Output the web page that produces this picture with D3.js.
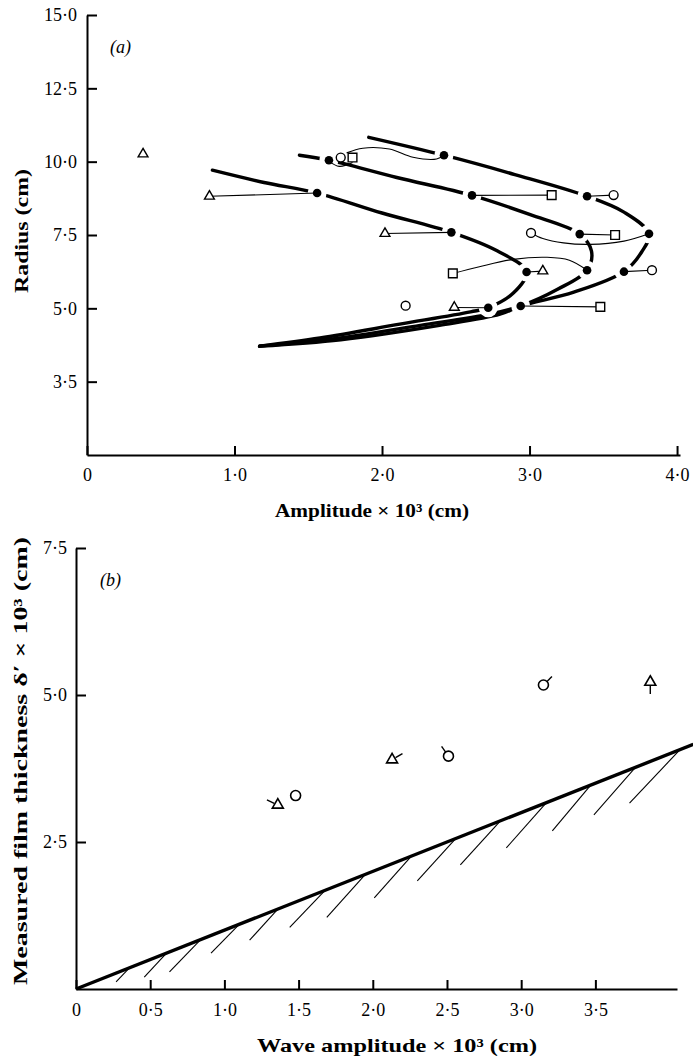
<!DOCTYPE html>
<html>
<head>
<meta charset="utf-8">
<script src="https://cdn.jsdelivr.net/npm/d3@7"></script>
<style>
  body { margin: 0; background: #fff; }
  svg { display: block; font-family: 'Liberation Serif', 'DejaVu Serif', serif; }
</style>
</head>
<body>
<svg width="693" height="1060"></svg>
<script>
// ---- panel (a): radius against amplitude ----
const radiusTicks = [15, 12.5, 10, 7.5, 5, 2.5]
const radiusLabels = ['15·0', '12·5', '10·0', '7·5', '5·0', '3·5']
const ampTicks = [0, 1, 2, 3, 4]
const ampLabels = ['0', '1·0', '2·0', '3·0', '4·0']

// filled dots
const dotAmp = [1.64, 2.42, 1.56, 2.61, 3.39, 2.47, 3.34, 3.81, 2.98, 3.39, 3.64, 2.72, 2.94]
const dotRadius = [10.05, 10.22, 8.93, 8.85, 8.82, 7.59, 7.53, 7.54, 6.24, 6.30, 6.25, 5.02, 5.08]

// open symbols
const openAmp = [0.38, 0.83, 1.72, 1.80, 3.15, 3.57, 2.02, 3.01, 3.58, 2.48, 3.09, 3.83, 2.16, 2.49, 3.48]
const openRadius = [10.26, 8.82, 10.14, 10.14, 8.86, 8.86, 7.55, 7.57, 7.50, 6.19, 6.27, 6.30, 5.09, 5.03, 5.05]
const openShape = ['triangle', 'triangle', 'circle', 'square', 'square', 'circle', 'triangle', 'circle',
  'square', 'square', 'triangle', 'circle', 'circle', 'triangle', 'square']

// thin links between an open symbol and its dot
const links = [
  [[0.83, 8.82], [1.56, 8.93]],
  [[1.64, 10.02], [1.71, 9.84], [1.80, 9.97]],
  [[1.76, 10.30], [1.87, 10.46], [2.05, 10.43], [2.21, 10.15], [2.37, 10.09], [2.42, 10.22]],
  [[3.15, 8.86], [2.61, 8.85]],
  [[3.57, 8.86], [3.39, 8.82]],
  [[2.02, 7.55], [2.47, 7.59]],
  [[3.01, 7.57], [3.09, 7.38], [3.23, 7.23], [3.41, 7.18], [3.64, 7.29], [3.81, 7.54]],
  [[3.58, 7.50], [3.34, 7.53]],
  [[2.48, 6.19], [2.66, 6.42], [2.89, 6.67], [3.12, 6.74], [3.27, 6.64], [3.39, 6.30]],
  [[3.09, 6.27], [2.98, 6.24]],
  [[3.83, 6.30], [3.64, 6.25]],
  [[2.49, 5.03], [2.72, 5.02]],
  [[3.48, 5.05], [2.94, 5.08]],
]

// thick broken loci, converging into the wedge at lower left
const curveA = [[1.91, 10.83], [2.42, 10.22], [2.90, 9.56], [3.39, 8.82], [3.64, 8.28], [3.81, 7.54],
  [3.76, 6.92], [3.64, 6.25], [3.30, 5.55], [2.94, 5.08], [2.80, 4.80], [2.39, 4.42], [1.72, 3.93], [1.17, 3.71]]
const curveB = [[1.44, 10.22], [1.64, 10.05], [2.10, 9.46], [2.61, 8.85], [3.00, 8.20], [3.34, 7.53],
  [3.42, 6.95], [3.39, 6.30], [3.19, 5.65], [2.94, 5.08], [2.73, 4.80], [2.26, 4.42], [1.65, 3.95], [1.17, 3.71]]
const curveC = [[0.85, 9.71], [1.20, 9.29], [1.56, 8.93], [2.00, 8.25], [2.47, 7.59], [2.78, 6.96],
  [2.98, 6.24], [2.89, 5.52], [2.72, 5.02], [2.60, 4.88], [2.12, 4.46], [1.58, 3.99], [1.17, 3.71]]

// ---- panel (b): film thickness against wave amplitude ----
const waveTicks = [0, 0.5, 1, 1.5, 2, 2.5, 3, 3.5]
const waveLabels = ['0', '0·5', '1·0', '1·5', '2·0', '2·5', '3·0', '3·5']
const thickTicks = [2.5, 5, 7.5]
const thickLabels = ['2·5', '5·0', '7·5']

const waveAmp = [1.36, 1.48, 2.13, 2.51, 3.15, 3.87]
const filmThick = [3.13, 3.29, 3.90, 3.96, 5.17, 5.22]
const filmShape = ['triangle', 'circle', 'triangle', 'circle', 'circle', 'triangle']
const flagAngle = [155, null, 30, 125, 45, 270]

// bounding line and its hatching
const boundAmp = [0, 4.16]
const boundThick = [0, 4.16]
const hatchTop = [0.36, 0.61, 0.84, 1.10, 1.36, 1.68, 1.95, 2.26, 2.56, 2.86, 3.17, 3.47, 3.77, 4.07]
const hatchFootAmp = [0.27, 0.46, 0.63, 0.91, 1.17, 1.44, 1.69, 2.01, 2.30, 2.59, 2.90, 3.21, 3.49, 3.73]
const hatchFootThick = [0.12, 0.20, 0.29, 0.61, 0.83, 1.05, 1.22, 1.55, 1.84, 2.11, 2.40, 2.69, 2.96, 3.16]

const svg = d3.select('svg')

const symbolFor = (shape, small) => {
  const type = { triangle: d3.symbolTriangle, circle: d3.symbolCircle, square: d3.symbolSquare }[shape]
  const size = { triangle: small ? 42 : 52, circle: small ? 62 : 78, square: 76 }[shape]
  return d3.symbol().type(type).size(size)()
}

const styleAxis = (g, fontSize) => {
  g.select('.domain').attr('stroke-width', 2)
  g.selectAll('.tick line').attr('stroke-width', 2)
  g.selectAll('.tick text')
    .attr('font-size', fontSize)
    .attr('font-family', "'Liberation Serif', serif")
    .attr('fill', '#000')
}

// ---------- panel (a) ----------
const xA = d3.scaleLinear().domain([0, 4.02]).range([87, 680])
const yA = d3.scaleLinear().domain([0, 15]).range([455, 15])

const gA = svg.append('g')

gA.append('g')
  .attr('transform', `translate(${xA(0)},0)`)
  .call(d3.axisLeft(yA).tickValues(radiusTicks).tickFormat((d, i) => radiusLabels[i])
    .tickSizeInner(-10).tickSizeOuter(0).tickPadding(10))
  .call((g) => styleAxis(g, 18))

gA.append('g')
  .attr('transform', `translate(0,${yA(0)})`)
  .call(d3.axisBottom(xA).tickValues(ampTicks).tickFormat((d, i) => ampLabels[i])
    .tickSizeInner(-9).tickSizeOuter(0).tickPadding(13))
  .call((g) => styleAxis(g, 18))

const lineA = d3.line()
  .x((d) => xA(d[0]))
  .y((d) => yA(d[1]))
  .curve(d3.curveCatmullRom.alpha(0.5))

// thick loci
gA.selectAll('path.locus')
  .data([curveA, curveB, curveC])
  .join('path')
  .attr('class', 'locus')
  .attr('d', lineA)
  .attr('fill', 'none')
  .attr('stroke', '#000')
  .attr('stroke-width', 3.4)
  .attr('stroke-linecap', 'round')

// white halos break the loci around each dot
gA.selectAll('circle.halo')
  .data(dotAmp)
  .join('circle')
  .attr('class', 'halo')
  .attr('cx', (d) => xA(d))
  .attr('cy', (d, i) => yA(dotRadius[i]))
  .attr('r', 9.5)
  .attr('fill', '#fff')

// thin links
gA.selectAll('path.link')
  .data(links)
  .join('path')
  .attr('class', 'link')
  .attr('d', lineA)
  .attr('fill', 'none')
  .attr('stroke', '#000')
  .attr('stroke-width', 1.1)

gA.selectAll('path.open')
  .data(openAmp)
  .join('path')
  .attr('class', 'open')
  .attr('transform', (d, i) => `translate(${xA(d)},${yA(openRadius[i])})`)
  .attr('d', (d, i) => symbolFor(openShape[i], true))
  .attr('fill', '#fff')
  .attr('stroke', '#000')
  .attr('stroke-width', 1.4)

gA.selectAll('circle.dot')
  .data(dotAmp)
  .join('circle')
  .attr('class', 'dot')
  .attr('cx', (d) => xA(d))
  .attr('cy', (d, i) => yA(dotRadius[i]))
  .attr('r', 4.3)
  .attr('fill', '#000')

gA.append('text')
  .attr('x', 110).attr('y', 53)
  .attr('font-size', 18).attr('font-style', 'italic')
  .text('(a)')

gA.append('text')
  .attr('transform', 'translate(28,231) rotate(-90)')
  .attr('text-anchor', 'middle')
  .attr('font-size', 19).attr('font-weight', 'bold')
  .attr('textLength', 124).attr('lengthAdjust', 'spacingAndGlyphs')
  .text('Radius (cm)')

gA.append('text')
  .attr('x', 372).attr('y', 517)
  .attr('text-anchor', 'middle')
  .attr('font-size', 19).attr('font-weight', 'bold')
  .attr('textLength', 194).attr('lengthAdjust', 'spacingAndGlyphs')
  .text('Amplitude × 10³ (cm)')

// ---------- panel (b) ----------
const xB = d3.scaleLinear().domain([0, 4.05]).range([76, 677])
const yB = d3.scaleLinear().domain([0, 7.5]).range([989, 548])

const gB = svg.append('g')

gB.append('g')
  .attr('transform', `translate(${xB(0)},0)`)
  .call(d3.axisLeft(yB).tickValues(thickTicks).tickFormat((d, i) => thickLabels[i])
    .tickSizeInner(-10).tickSizeOuter(0).tickPadding(9))
  .call((g) => styleAxis(g, 18))

gB.append('g')
  .attr('transform', `translate(0,${yB(0)})`)
  .call(d3.axisBottom(xB).tickValues(waveTicks).tickFormat((d, i) => waveLabels[i])
    .tickSizeInner(-9).tickSizeOuter(0).tickPadding(14))
  .call((g) => styleAxis(g, 18))

const lineB = d3.line()
  .x((d) => xB(d[0]))
  .y((d) => yB(d[1]))

gB.append('path')
  .attr('d', lineB(boundAmp.map((d, i) => [d, boundThick[i]])))
  .attr('fill', 'none')
  .attr('stroke', '#000')
  .attr('stroke-width', 3.4)

gB.selectAll('line.hatch')
  .data(hatchTop)
  .join('line')
  .attr('class', 'hatch')
  .attr('x1', (d) => xB(d))
  .attr('y1', (d) => yB(d))
  .attr('x2', (d, i) => xB(hatchFootAmp[i]))
  .attr('y2', (d, i) => yB(hatchFootThick[i]))
  .attr('stroke', '#000')
  .attr('stroke-width', 1.1)

// short flags on some of the symbols
const flagged = waveAmp.map((d, i) => i).filter((i) => flagAngle[i] !== null)
const rad = (i) => flagAngle[i] * Math.PI / 180

gB.selectAll('line.flag')
  .data(flagged)
  .join('line')
  .attr('class', 'flag')
  .attr('x1', (i) => xB(waveAmp[i]) + 4 * Math.cos(rad(i)))
  .attr('y1', (i) => yB(filmThick[i]) - 4 * Math.sin(rad(i)))
  .attr('x2', (i) => xB(waveAmp[i]) + 12 * Math.cos(rad(i)))
  .attr('y2', (i) => yB(filmThick[i]) - 12 * Math.sin(rad(i)))
  .attr('stroke', '#000')
  .attr('stroke-width', 1.4)

gB.selectAll('path.film')
  .data(waveAmp)
  .join('path')
  .attr('class', 'film')
  .attr('transform', (d, i) => `translate(${xB(d)},${yB(filmThick[i])})`)
  .attr('d', (d, i) => symbolFor(filmShape[i], false))
  .attr('fill', '#fff')
  .attr('stroke', '#000')
  .attr('stroke-width', 1.6)

gB.append('text')
  .attr('x', 100).attr('y', 586)
  .attr('font-size', 18).attr('font-style', 'italic')
  .text('(b)')

gB.append('text')
  .attr('transform', 'translate(27,761) rotate(-90)')
  .attr('text-anchor', 'middle')
  .attr('font-size', 19).attr('font-weight', 'bold')
  .attr('textLength', 448).attr('lengthAdjust', 'spacingAndGlyphs')
  .text('Measured film thickness δ′ × 10³ (cm)')

gB.append('text')
  .attr('x', 397).attr('y', 1052)
  .attr('text-anchor', 'middle')
  .attr('font-size', 19).attr('font-weight', 'bold')
  .attr('textLength', 280).attr('lengthAdjust', 'spacingAndGlyphs')
  .text('Wave amplitude × 10³ (cm)')
</script>
</body>
</html>
